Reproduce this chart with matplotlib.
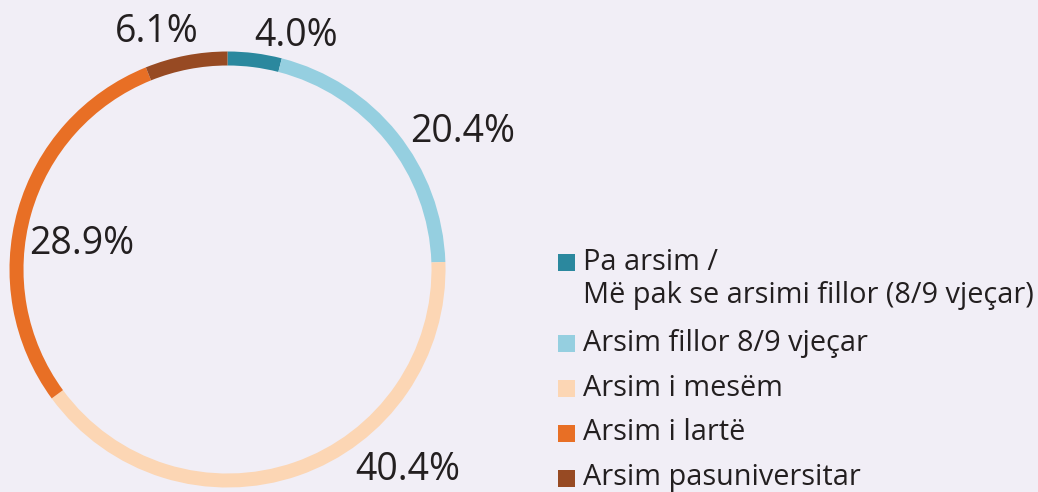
import matplotlib.pyplot as plt
import matplotlib.patches as patches

# Data
categories = ["Pa arsim /\nMë pak se arsimi fillor (8/9 vjeçar)",
              "Arsim fillor 8/9 vjeçar",
              "Arsim i mesëm",
              "Arsim i lartë",
              "Arsim pasuniversitar"]
shares = [4.0, 20.4, 40.4, 28.9, 6.1]
colors = ["#2b889e", "#95cfe0", "#fcd6b4", "#e86f25", "#974a23"]

# label placement (pixel offsets from ring center, hand tuned)
label_offsets = [(69, 234), (235, 137), (180, -200), (-146, 26), (-71, 237)]

W, H = 1038, 492
bg = "#f1eef6"
txt = "#231f20"
plt.rcParams['font.family'] = ['Open Sans', 'DejaVu Sans']

fig = plt.figure(figsize=(W / 100, H / 100), dpi=100, facecolor=bg)
ax = fig.add_axes([0, 0, 1, 1])
ax.set_facecolor(bg)

R = 218.0            # outer radius in px
cx, cy = 227.5, 269.5  # center in px (from top-left)

ax.pie(shares, colors=colors, startangle=90, counterclock=False,
       radius=1.0, wedgeprops=dict(width=14 / R, edgecolor='none'))
ax.set_xlim(-cx / R, (W - cx) / R)
ax.set_ylim(-(H - cy) / R, cy / R)
ax.set_aspect('auto')
ax.axis('off')

for v, (dx, dy) in zip(shares, label_offsets):
    ax.text(dx / R, dy / R, f"{v:.1f}%", ha='center', va='center',
            fontsize=27, color=txt)

# legend drawn by hand
def fx(x):
    return x / W

def fy(y):
    return 1 - y / H

row_y = [262, 343, 388, 433, 478]
sq = 17
for lab, c, y in zip(categories, colors, row_y):
    fig.patches.append(patches.Rectangle((fx(558), fy(y + sq / 2)), sq / W, sq / H,
                                         transform=fig.transFigure, facecolor=c,
                                         edgecolor='none'))
    lines = lab.split("\n")
    for i, line in enumerate(lines):
        fig.text(fx(583), fy(y + i * 33), line, ha='left', va='center',
                 fontsize=20.8, color=txt)

fig.savefig("out.png", dpi=100, facecolor=bg)
